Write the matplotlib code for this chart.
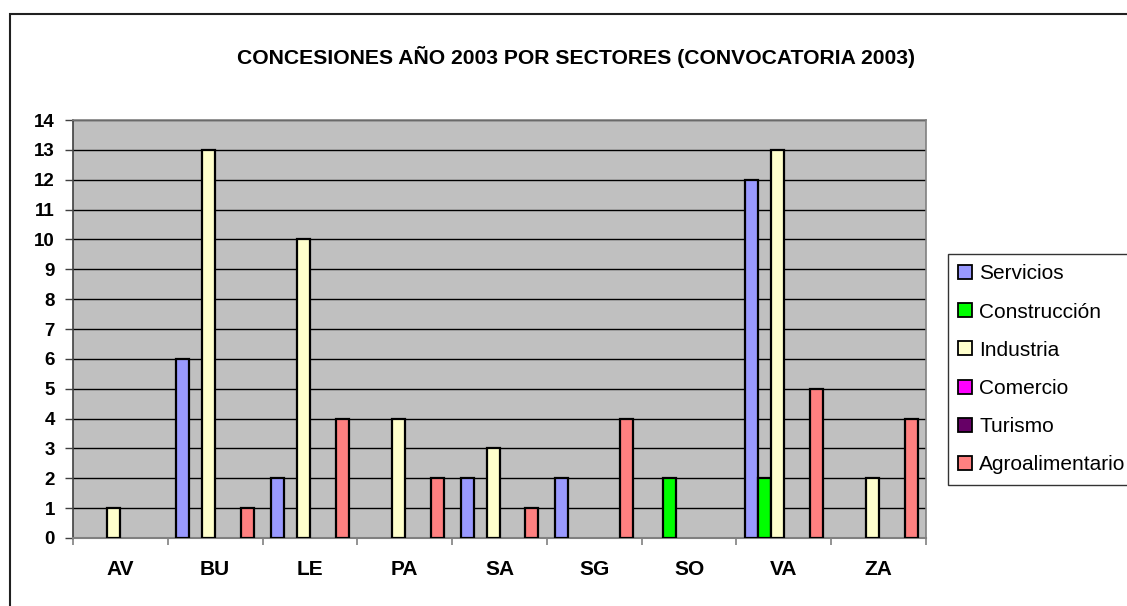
import numpy as np
import matplotlib
matplotlib.use("Agg")
import matplotlib.pyplot as plt
from matplotlib.patches import Rectangle

categories = ["AV", "BU", "LE", "PA", "SA", "SG", "SO", "VA", "ZA"]
series_names = ["Servicios", "Construcción", "Industria", "Comercio", "Turismo", "Agroalimentario"]
servicios = [0, 6, 2, 0, 2, 2, 0, 12, 0]
construccion = [0, 0, 0, 0, 0, 0, 2, 2, 0]
industria = [1, 13, 10, 4, 3, 0, 0, 13, 2]
comercio = [0, 0, 0, 0, 0, 0, 0, 0, 0]
turismo = [0, 0, 0, 0, 0, 0, 0, 0, 0]
agroalimentario = [0, 1, 4, 2, 1, 4, 0, 5, 4]
colors = ["#9999FF", "#00FF00", "#FFFFCC", "#FF00FF", "#660066", "#FF8080"]
title = "CONCESIONES AÑO 2003 POR SECTORES (CONVOCATORIA 2003)"

series = [servicios, construccion, industria, comercio, turismo, agroalimentario]

plt.rcParams['font.family'] = ['Liberation Sans', 'DejaVu Sans']

W, H = 1127, 606
fig = plt.figure(figsize=(W / 100, H / 100), dpi=100)
fig.patch.set_facecolor("white")

# outer chart border (extends beyond the image on right/bottom)
fig.add_artist(Rectangle((10 / W, -0.2), 1.5, 1 - 14 / H + 0.2, transform=fig.transFigure,
                         fill=False, edgecolor="#202020", linewidth=1.5, clip_on=False))

ax = fig.add_axes([73 / W, 1 - 538 / H, (926 - 73) / W, (538 - 120) / H])
ax.set_facecolor("#C0C0C0")

n = len(series)
x = np.arange(len(categories))
bw = 0.137
for i, (vals, name, col) in enumerate(zip(series, series_names, colors)):
    offs = (i - (n - 1) / 2) * bw
    vals = np.asarray(vals, dtype=float)
    mask = vals > 0
    ax.bar(x[mask] + offs, vals[mask], width=bw, color=col, edgecolor="black",
           linewidth=1.6, zorder=3)
    # legend proxy
    ax.bar([np.nan], [np.nan], width=bw, color=col, edgecolor="black", linewidth=1.3, label=name)

ax.set_xlim(-0.5, len(categories) - 0.5)
ax.set_ylim(0, 14)
ax.set_yticks(range(0, 15))
ax.yaxis.grid(True, color="black", linewidth=1.0, zorder=1)
ax.set_axisbelow(True)

ax.set_xticks(np.arange(len(categories) + 1) - 0.5)
ax.set_xticklabels([])
ax.set_xticks(x, minor=True)
ax.set_xticklabels(categories, minor=True, fontsize=15, fontweight="bold")
ax.tick_params(axis="x", which="minor", length=0, pad=16)
ax.tick_params(axis="x", which="major", direction="out", length=5, color="#808080", width=1.2)
ax.tick_params(axis="y", direction="out", length=6, color="#404040", width=1.0, labelsize=13.5,
               pad=7)
for lab in ax.get_yticklabels():
    lab.set_fontweight("bold")

for s in ["top", "right"]:
    ax.spines[s].set_color("#808080")
    ax.spines[s].set_linewidth(1.2)
ax.spines["bottom"].set_color("#808080")
ax.spines["bottom"].set_linewidth(1.5)
ax.spines["left"].set_color("#404040")
ax.spines["left"].set_linewidth(1.2)

fig.text(576 / W, 1 - 57 / H, title, ha="center", va="center", fontsize=15.2,
         fontweight="bold")

leg = fig.legend(loc="upper left", bbox_to_anchor=(948 / W, 1 - 254 / H), fontsize=15,
                 frameon=True, fancybox=False, edgecolor="black", handlelength=0.65,
                 handleheight=0.65, handletextpad=0.35, labelspacing=0.92, borderpad=0.5,
                 borderaxespad=0)
leg.get_frame().set_linewidth(1.0)

fig.savefig("out.png", dpi=100)
